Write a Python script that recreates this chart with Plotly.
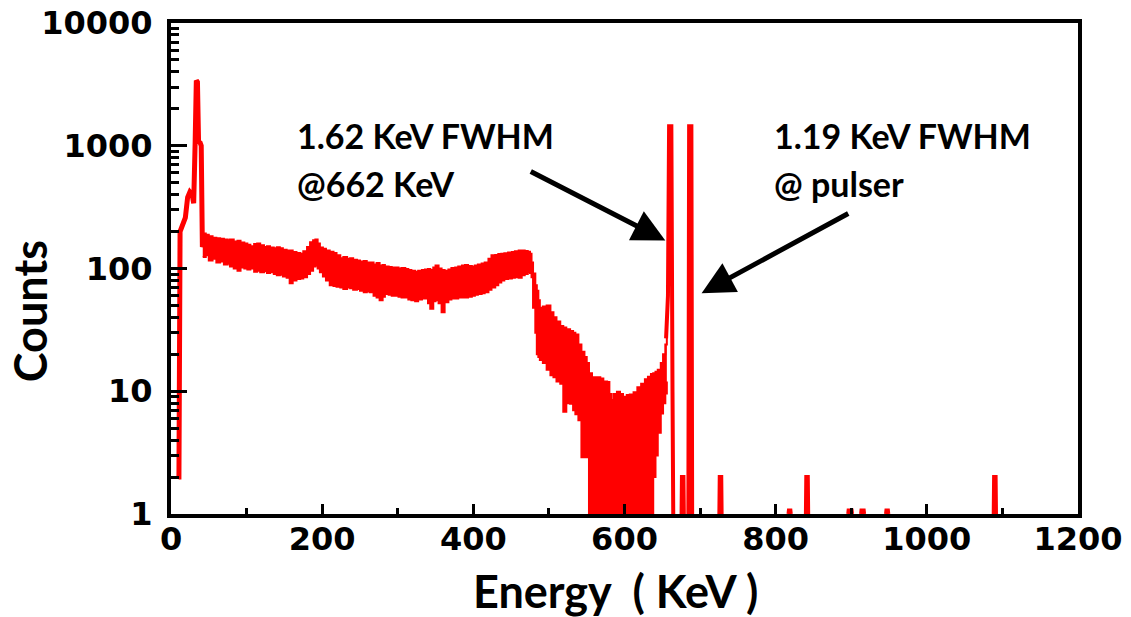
import math
import plotly.graph_objects as go

# ---------------- data ----------------
# low-energy rise and the ~32 keV X-ray peak
low_energy = [10.0, 10.5, 12.0, 15, 19, 22, 25, 28, 30, 32, 33.5, 35, 36.5, 38, 40, 41.5, 43]
low_counts = [2, 2, 200, 220, 260, 380, 420, 400, 340, 1100, 3400, 3300, 1050, 1080, 1000, 150, 160]

# noisy continuum: upper / lower envelope of the dense spectrum
band_energy = [42, 46, 50, 55, 60, 65, 70, 75, 78, 83, 88, 92, 97, 101, 105, 110, 114, 118, 123, 127,
               131, 136, 140, 144, 148, 153, 157, 161, 166, 171, 175, 180, 184, 188, 191, 194, 197, 201, 205, 210,
               215, 219, 224, 228, 233, 237, 241, 246, 250, 255, 259, 263, 268, 272, 276, 280, 283, 288, 292, 296,
               301, 305, 310, 314, 318, 323, 327, 332, 336, 340, 343, 347, 350, 354, 358, 362, 367, 371, 376, 380,
               385, 389, 393, 398, 402, 406, 411, 415, 420, 424, 429, 433, 437, 441, 446, 451, 455, 460, 464, 468,
               472, 475, 477, 479, 482, 484, 486, 488, 492, 497, 502, 506, 510, 515, 519, 523, 528, 532, 535, 539,
               543, 547, 550, 553, 557, 562, 568, 572, 577, 580, 583, 586, 590, 594, 598, 603, 607, 612, 617, 622,
               627, 631, 635, 638, 641, 644, 648, 651, 654, 656]
band_upper = [193, 188, 183, 178, 176, 175, 172, 170, 172, 166, 168, 163, 160, 156, 152, 158, 160, 155, 150, 152,
              148, 146, 149, 146, 142, 140, 140, 136, 134, 132, 138, 150, 164, 170, 172, 160, 148, 145, 140, 137,
              134, 128, 121, 124, 120, 121, 118, 116, 114, 115, 112, 112, 108, 111, 106, 107, 104, 103, 102, 102,
              100, 101, 99, 97, 96, 94, 96, 97, 98, 99, 97, 102, 106, 100, 97, 96, 98, 101, 102, 104,
              106, 107, 105, 104, 106, 108, 110, 112, 120, 128, 129, 131, 132, 133, 135, 136, 138, 140, 140, 139,
              137, 132, 112, 91, 73, 66, 55, 48, 49, 50, 44, 40, 37, 34, 33, 32, 31, 30, 29, 24,
              21, 19, 17, 14, 13, 13, 12.7, 12, 11.9, 9.5, 8.5, 9.5, 9.9, 9.5, 9, 9.3, 9.4, 9.8, 10.8, 11.5,
              12.5, 13.1, 13.8, 14, 14.4, 15, 17, 20, 24, 28]
band_lower = [124, 128, 116, 120, 112, 114, 108, 110, 104, 100, 96, 102, 100, 98, 100, 94, 96, 93, 95, 92,
              93, 90, 88, 89, 86, 84, 76, 80, 82, 83, 85, 90, 96, 104, 106, 100, 93, 86, 80, 73,
              72, 71, 70, 68, 70, 69, 67, 68, 66, 64, 65, 64, 60, 58, 55, 59, 62, 61, 60, 60,
              59, 58, 58, 56, 55, 54, 56, 57, 57, 52, 47, 54, 55, 52, 44, 53, 56, 57, 57, 58,
              58, 58, 59, 60, 61, 62, 63, 64, 67, 70, 73, 77, 80, 82, 83, 84, 85, 84, 88, 90,
              93, 92, 85, 48, 30, 20, 19, 18, 17, 15, 13.5, 13, 12, 11.5, 6.8, 8, 7.9, 7, 6.5, 5.8,
              2.9, 2.9, 2.9, 1, 1, 1, 1, 1, 1, 1, 1, 1, 1, 1, 1, 1, 1, 1, 1, 1,
              1, 1, 1, 2, 3, 4.6, 6.6, 8, 9.6, 12]

# 662 keV photopeak, small bump and pulser peak
peak_energy = [655, 657.5, 659, 662, 663.5, 664.5, None, 675.5, 676, 678, 678.5, None,
               684.5, 685.5, 688.5, 689.5]
peak_counts = [27, 60, 1440, 1440, 10, 1, None, 1, 2, 2, 1, None,
               1, 1440, 1440, 1]

# isolated counts at higher energies
spike_energy = [725.5, 726, 728, 728.5, None, 840, 840.5, 842.5, 843, None, 1088.5, 1089, 1091, 1091.5, None,
                817, 817.5, 819.5, 820, None, 896, 896.5, 900.5, 901, None, 913, 913.5, 916.5, 917, None,
                946, 946.5, 948.5, 949]
spike_counts = [1, 2, 2, 1, None, 1, 2, 2, 1, None, 1, 2, 2, 1, None,
                1, 1.07, 1.07, 1, None, 1, 1.07, 1.07, 1, None, 1, 1.07, 1.07, 1, None,
                1, 1.07, 1.07, 1]

x_ticks = [0, 200, 400, 600, 800, 1000, 1200]
x_labels = ["0", "200", "400", "600", "800", "1000", "1200"]
y_ticks = [1, 10, 100, 1000, 10000]
y_labels = ["1", "10", "100", "1000", "10000"]

RED = "#ff0000"

fig = go.Figure()

fig.add_trace(go.Scatter(x=band_energy, y=band_upper, mode="lines", line=dict(color=RED, width=2, shape="hv"),
                         hoverinfo="skip", showlegend=False))
fig.add_trace(go.Scatter(x=band_energy, y=band_lower, mode="lines", line=dict(color=RED, width=2, shape="hv"),
                         fill="tonexty", fillcolor=RED, hoverinfo="skip", showlegend=False))
fig.add_trace(go.Scatter(x=low_energy, y=low_counts, mode="lines", line=dict(color=RED, width=5),
                         showlegend=False))
fig.add_trace(go.Scatter(x=peak_energy, y=peak_counts, mode="lines", line=dict(color=RED, width=4),
                         connectgaps=False, showlegend=False))
fig.add_trace(go.Scatter(x=spike_energy, y=spike_counts, mode="lines", line=dict(color=RED, width=4),
                         connectgaps=False, showlegend=False))

TICKFONT = dict(family="DejaVu Sans", size=32, color="black", weight="bold")
TITLEFONT = dict(family="Lato", size=45, color="black", weight="bold")
ANNFONT = dict(family="Lato", size=34, color="black", weight="bold")

fig.update_xaxes(range=[0, 1200], tickvals=x_ticks, ticktext=x_labels, tickfont=TICKFONT,
                 ticks="inside", ticklen=10, tickwidth=3, tickcolor="black",
                 minor=dict(ticks="inside", ticklen=6, tickwidth=3, tickcolor="black", dtick=100, showgrid=False),
                 showline=True, linewidth=4, linecolor="black", mirror=True, showgrid=False, zeroline=False,
                 ticklabelstandoff=-6, ticklabeloverflow="allow", automargin=False)
fig.update_yaxes(type="log", range=[0, 4], tickvals=y_ticks, ticktext=y_labels, tickfont=TICKFONT,
                 ticks="inside", ticklen=16, tickwidth=3, tickcolor="black",
                 minor=dict(ticks="inside", ticklen=8, tickwidth=3, tickcolor="black", dtick="D1", showgrid=False),
                 showline=True, linewidth=4, linecolor="black", mirror=True, showgrid=False, zeroline=False,
                 ticklabelstandoff=8, ticklabeloverflow="allow", automargin=False)

L = math.log10
annotations = [
    # axis titles
    dict(x=0.4906, y=-0.156, xref="paper", yref="paper", text="Energy  ( KeV )", showarrow=False,
         xanchor="center", yanchor="middle", font=TITLEFONT),
    dict(x=-0.1555, y=0.413, xref="paper", yref="paper", text="Counts", showarrow=False, textangle=-90,
         xanchor="center", yanchor="middle", font=TITLEFONT),
    # peak labels
    dict(x=164, y=L(1206), xref="x", yref="y", text="1.62 KeV FWHM", showarrow=False,
         xanchor="left", yanchor="middle", font=ANNFONT),
    dict(x=164, y=L(490), xref="x", yref="y", text="@662 KeV", showarrow=False,
         xanchor="left", yanchor="middle", font=ANNFONT),
    dict(x=795, y=L(1206), xref="x", yref="y", text="1.19 KeV FWHM", showarrow=False,
         xanchor="left", yanchor="middle", font=ANNFONT),
    dict(x=795, y=L(490), xref="x", yref="y", text="@ pulser", showarrow=False,
         xanchor="left", yanchor="middle", font=ANNFONT),
    # arrows
    dict(x=654, y=L(169), xref="x", yref="y", ax=474, ay=L(626), axref="x", ayref="y",
         text="", showarrow=True, arrowhead=2, arrowsize=1.3, arrowwidth=5, arrowcolor="black", standoff=0),
    dict(x=702, y=L(63), xref="x", yref="y", ax=898, ay=L(285), axref="x", ayref="y",
         text="", showarrow=True, arrowhead=2, arrowsize=1.3, arrowwidth=5, arrowcolor="black", standoff=0),
]

fig.update_layout(width=1131, height=617, margin=dict(l=171, r=53, t=23, b=103),
                  paper_bgcolor="white", plot_bgcolor="white", annotations=annotations,
                  showlegend=False)

# remove the browser's default 8 px body margin so the figure fills the window exactly
fig.write_html("out.html", config={"displayModeBar": False},
               post_script="document.body.style.margin='0';")
